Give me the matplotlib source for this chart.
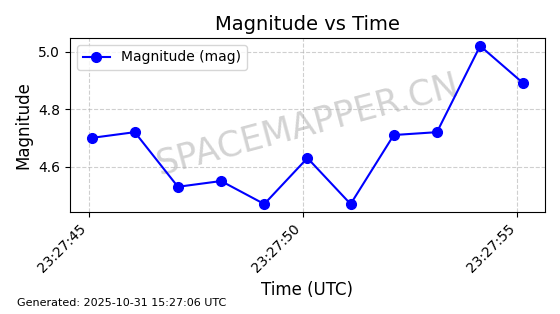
import matplotlib
matplotlib.use('Agg')
import matplotlib.pyplot as plt
import matplotlib.dates as mdates
import pandas as pd

# ── data ───────────────────────────────────────────────────────────────────────
times = pd.to_datetime([
    "2025-10-30 23:27:45.070", "2025-10-30 23:27:46.077", "2025-10-30 23:27:47.084",
    "2025-10-30 23:27:48.091", "2025-10-30 23:27:49.098", "2025-10-30 23:27:50.105",
    "2025-10-30 23:27:51.112", "2025-10-30 23:27:52.119", "2025-10-30 23:27:53.126",
    "2025-10-30 23:27:54.133", "2025-10-30 23:27:55.140",
])
magnitude = [4.70, 4.72, 4.53, 4.55, 4.47, 4.63, 4.47, 4.71, 4.72, 5.02, 4.89]
yticks = [4.6, 4.8, 5.0]

fig = plt.figure(figsize=(5.6, 3.14), dpi=100)
ax = fig.add_axes([0.125, 0.325, 0.848, 0.554])

ax.plot(times, magnitude, color='blue', marker='o', markersize=7,
        linewidth=1.5, label='Magnitude (mag)')

ax.set_yticks(yticks)
ax.xaxis.set_major_locator(mdates.SecondLocator(bysecond=[0, 5, 10, 15, 20, 25, 30, 35, 40, 45, 50, 55]))
ax.xaxis.set_major_formatter(mdates.DateFormatter('%H:%M:%S'))
plt.setp(ax.get_xticklabels(), rotation=45, ha='right')

ax.grid(True, linestyle='--', alpha=0.6)
ax.set_title('Magnitude vs Time', fontsize=14)
ax.set_xlabel('Time (UTC)', fontsize=12)
ax.set_ylabel('Magnitude', fontsize=12)
ax.legend(loc='upper left')

# watermark
ax.text(0.5, 0.5, 'SPACEMAPPER.CN', transform=ax.transAxes, fontsize=25,
        color='gray', alpha=0.35, rotation=15, ha='center', va='center', zorder=0)

fig.text(0.03, 0.025, 'Generated: 2025-10-31 15:27:06 UTC', fontsize=8)

fig.savefig('out.png', dpi=100)
